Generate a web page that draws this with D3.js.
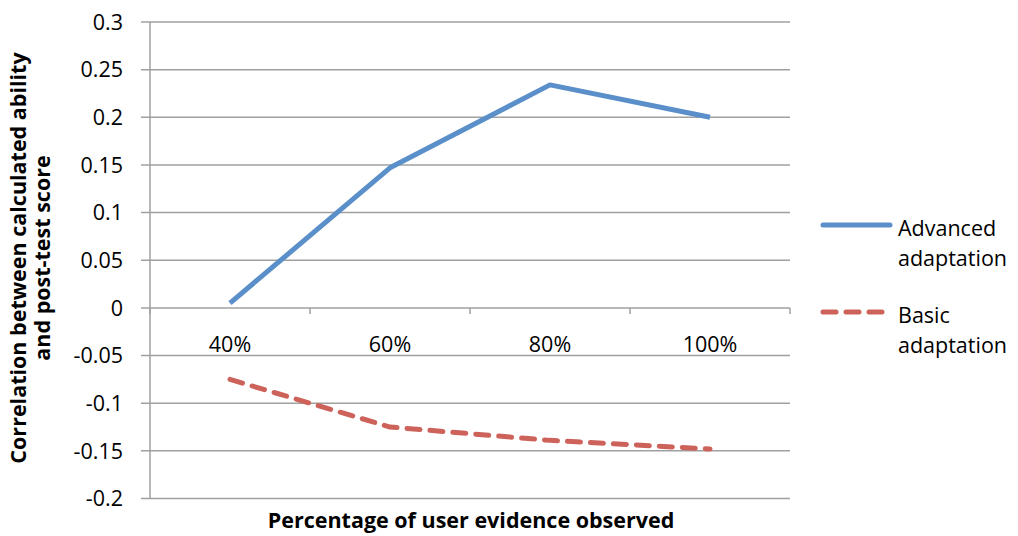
<!DOCTYPE html>
<html><head><meta charset="utf-8">
<script src="https://cdn.jsdelivr.net/npm/d3@7"></script>
<style>body{margin:0;background:#fff;} text{font-family:"Open Sans","Noto Sans",sans-serif;fill:#000;}</style>
</head><body>
<svg id="c" width="1018" height="536"></svg>
<script>
const categories = ["40%", "60%", "80%", "100%"];
const advanced = [0.005, 0.147, 0.234, 0.200];
const basic = [-0.075, -0.125, -0.139, -0.148];
const yTicks = [0.3, 0.25, 0.2, 0.15, 0.1, 0.05, 0, -0.05, -0.1, -0.15, -0.2];
const seriesNames = ["Advanced adaptation", "Basic adaptation"];

const svg = d3.select("#c");
const x = d3.scaleBand().domain(categories).range([150, 790]);
const y = d3.scaleLinear().domain([-0.2, 0.3]).range([498.5, 22]);
const grid = "#a0a0a0";
const fs = 21.5;

svg.append("g").selectAll("line").data(yTicks).join("line")
  .attr("x1", 141).attr("x2", 790)
  .attr("y1", d => y(d)).attr("y2", d => y(d))
  .attr("stroke", grid).attr("stroke-width", 1.5);
svg.append("line").attr("x1", 150).attr("x2", 150).attr("y1", y(0.3)).attr("y2", y(-0.2))
  .attr("stroke", grid).attr("stroke-width", 1.5);
svg.append("g").selectAll("text").data(yTicks).join("text")
  .attr("x", 123).attr("y", d => y(d)).attr("dy", "0.36em")
  .attr("text-anchor", "end").attr("font-size", fs)
  .text(d => String(d));
const bounds = categories.map(c => x(c)).concat([x.range()[1]]);
svg.append("g").selectAll("line").data(bounds).join("line")
  .attr("x1", d => d).attr("x2", d => d).attr("y1", y(0)).attr("y2", y(0) + 6)
  .attr("stroke", grid).attr("stroke-width", 1.5);
svg.append("g").selectAll("text").data(categories).join("text")
  .attr("x", d => x(d) + x.bandwidth() / 2).attr("y", 352)
  .attr("text-anchor", "middle").attr("font-size", fs).text(d => d);

const line = d3.line().x((d, i) => x(categories[i]) + x.bandwidth() / 2).y(d => y(d));
svg.append("path").attr("d", line(advanced)).attr("fill", "none")
  .attr("stroke", "#5a8fca").attr("stroke-width", 5).attr("stroke-linejoin", "round");
svg.append("path").attr("d", line(basic)).attr("fill", "none")
  .attr("stroke", "#cd625b").attr("stroke-width", 5).attr("stroke-dasharray", "13,10")
  .attr("stroke-linecap", "round").attr("stroke-linejoin", "round");

svg.append("text").attr("x", 471).attr("y", 528).attr("text-anchor", "middle")
  .attr("font-size", fs).attr("font-weight", "bold").text("Percentage of user evidence observed");
const yt = svg.append("text").attr("transform", "translate(0,258) rotate(-90)")
  .attr("text-anchor", "middle").attr("font-size", fs).attr("font-weight", "bold");
yt.append("tspan").attr("x", 0).attr("y", 26).text("Correlation between calculated ability");
yt.append("tspan").attr("x", 0).attr("y", 50).text("and post-test score");

const leg = [{name: seriesNames[0], color: "#5a8fca", dash: null, y: 225},
             {name: seriesNames[1], color: "#cd625b", dash: "13,10", y: 312}];
leg.forEach(l => {
  svg.append("line").attr("x1", 823).attr("x2", 890).attr("y1", l.y).attr("y2", l.y)
    .attr("stroke", l.color).attr("stroke-width", 5).attr("stroke-linecap", "round")
    .attr("stroke-dasharray", l.dash);
  const parts = l.name.split(" ");
  const t = svg.append("text").attr("font-size", fs);
  t.append("tspan").attr("x", 898).attr("y", l.y + 11).text(parts[0]);
  t.append("tspan").attr("x", 898).attr("y", l.y + 41).text(parts[1]);
});
</script>
</body></html>
